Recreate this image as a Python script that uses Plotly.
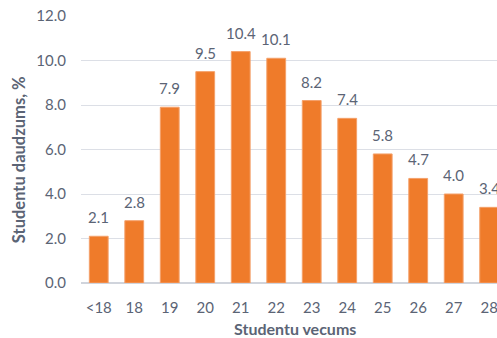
import plotly.graph_objects as go

categories = ["<18", "18", "19", "20", "21", "22", "23", "24", "25", "26", "27", "28"]
values = [2.1, 2.8, 7.9, 9.5, 10.4, 10.1, 8.2, 7.4, 5.8, 4.7, 4.0, 3.4]
y_ticks = [0, 2, 4, 6, 8, 10, 12]

TEXT = "#5b6475"
FONT = "Lato, 'Noto Sans', sans-serif"

fig = go.Figure()
fig.add_trace(go.Bar(
    x=categories, y=values, width=0.53,
    marker=dict(color="#EF7B2A", line=dict(color="#F4A06A", width=1)),
    cliponaxis=False,
))

# value labels above bars (category index used as x position on the category axis)
annotations = [dict(x=i, y=v, text=f"{v:.1f}", xref="x", yref="y", showarrow=False,
                    yanchor="bottom", yshift=8, font=dict(size=15, color=TEXT))
               for i, v in enumerate(values)]
annotations.append(dict(text="<b>Studentu vecums</b>", xref="paper", yref="paper",
                        x=0.514, y=0, yshift=-45, yanchor="middle", showarrow=False,
                        font=dict(size=16, color=TEXT)))
annotations.append(dict(text="<b>Studentu daudzums, %</b>", xref="paper", yref="paper",
                        x=0, y=0.46, xshift=-62, xanchor="center", yanchor="middle",
                        textangle=-90, showarrow=False, font=dict(size=16.5, color=TEXT)))

fig.update_layout(
    width=497, height=338,
    margin=dict(l=81, r=0, t=16, b=55),
    paper_bgcolor="white", plot_bgcolor="white",
    font=dict(family=FONT, color=TEXT, size=15),
    showlegend=False,
    xaxis=dict(type="category", range=[-0.5, 11.22], showgrid=False, showline=False, zeroline=False,
               tickfont=dict(size=15, color=TEXT), ticks="outside", ticklen=11, tickcolor="rgba(0,0,0,0)"),
    yaxis=dict(range=[0, 12], tickvals=y_ticks, tickformat=".1f",
               gridcolor="#dcdfe6", gridwidth=1, zeroline=True, zerolinecolor="#d0d4dc",
               showline=False, ticklabelstandoff=14,
               tickfont=dict(size=15, color=TEXT)),
    annotations=annotations,
)

fig.write_html("out.html")
